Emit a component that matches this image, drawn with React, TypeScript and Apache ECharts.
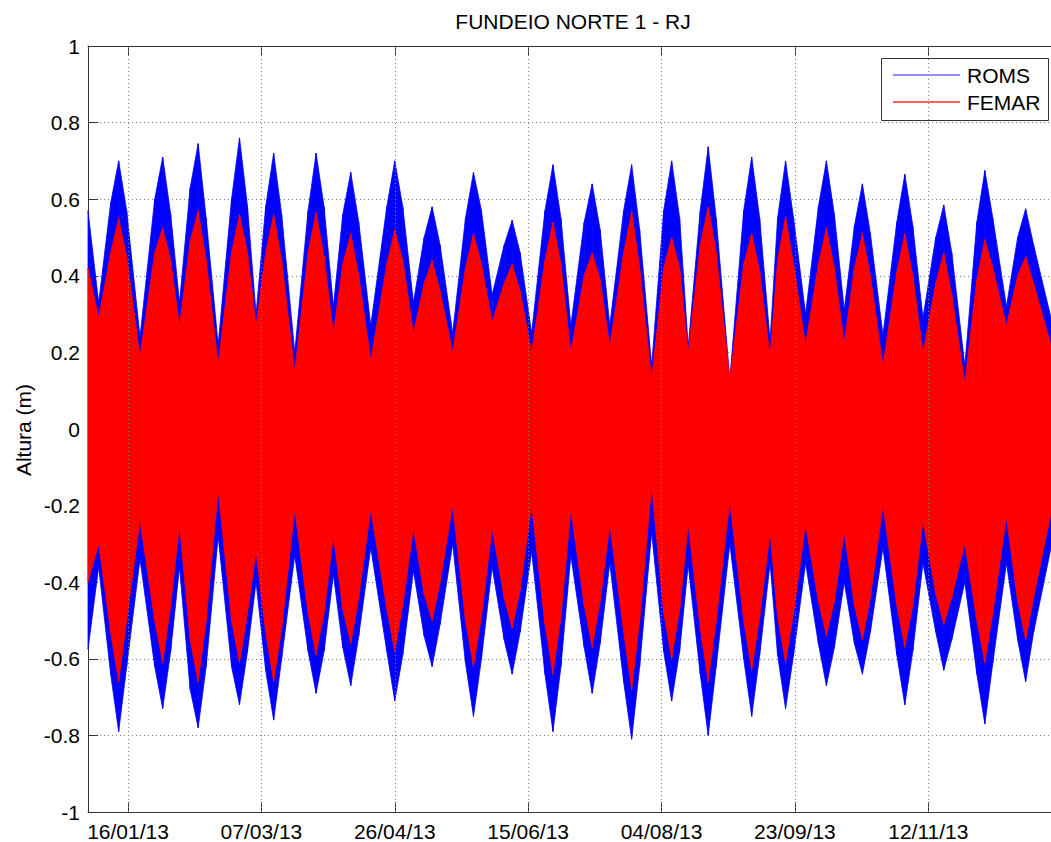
import React, { useEffect, useRef } from "react";
import * as echarts from "echarts";

// Time positions (days since 01/01/13) of envelope extremes / shoulders
const keyDays = [
  0, 4, 8.5, 11.5, 14.5, 19.5, 25, 28, 31, 34.3,
  38.3, 41.3, 44.3, 48.8, 53.8, 56.8, 59.8, 63, 66.6, 69.6,
  72.6, 77.5, 82.5, 85.5, 88.5, 92, 95.5, 98.5, 101.5, 106,
  112, 115, 118, 122, 126, 129, 132, 136.7, 141.5, 144.5,
  147.5, 151.5, 156, 159, 162, 166.3, 171.3, 174.3, 177.3, 181,
  186, 189, 192, 195.6, 200.8, 203.8, 206.8, 211.3, 215.8, 218.8,
  221.8, 225, 229.5, 232.5, 235.5, 240.6, 245.8, 248.8, 251.8, 255.7,
  258.5, 261.5, 264.5, 269, 273.8, 276.8, 279.8, 283.5, 287.3, 290.3,
  293.3, 298, 303.2, 306.2, 309.2, 313, 317.8, 320.8, 323.8, 328.7,
  333.2, 336.2, 339.2, 344.3, 348.5, 351.5, 354.5, 361,
];

// ROMS (blue) envelope, metres
const romsUpper = [
  0.57, 0.33, 0.59, 0.70, 0.57, 0.24, 0.60, 0.71, 0.56, 0.33,
  0.63, 0.745, 0.55, 0.22, 0.60, 0.76, 0.58, 0.30, 0.58, 0.72,
  0.56, 0.20, 0.57, 0.72, 0.58, 0.32, 0.56, 0.67, 0.54, 0.27,
  0.58, 0.70, 0.58, 0.33, 0.50, 0.58, 0.48, 0.25, 0.55, 0.67,
  0.57, 0.35, 0.48, 0.545, 0.46, 0.25, 0.57, 0.69, 0.55, 0.27,
  0.54, 0.64, 0.52, 0.27, 0.57, 0.69, 0.52, 0.165, 0.57, 0.70,
  0.55, 0.215, 0.57, 0.737, 0.55, 0.13, 0.57, 0.71, 0.55, 0.23,
  0.55, 0.70, 0.55, 0.30, 0.58, 0.70, 0.56, 0.31, 0.53, 0.64,
  0.51, 0.245, 0.54, 0.665, 0.53, 0.29, 0.50, 0.585, 0.46, 0.165,
  0.54, 0.675, 0.55, 0.32, 0.50, 0.575, 0.48, 0.29,
];
const romsLower = [
  -0.575, -0.36, -0.64, -0.79, -0.62, -0.34, -0.62, -0.73, -0.58, -0.36,
  -0.68, -0.78, -0.62, -0.28, -0.62, -0.72, -0.58, -0.40, -0.63, -0.76,
  -0.60, -0.33, -0.58, -0.69, -0.58, -0.38, -0.57, -0.67, -0.54, -0.31,
  -0.58, -0.71, -0.59, -0.37, -0.54, -0.62, -0.51, -0.30, -0.61, -0.75,
  -0.60, -0.36, -0.55, -0.64, -0.53, -0.32, -0.64, -0.79, -0.62, -0.33,
  -0.57, -0.69, -0.56, -0.35, -0.66, -0.81, -0.62, -0.27, -0.58, -0.71,
  -0.58, -0.355, -0.64, -0.80, -0.62, -0.30, -0.60, -0.75, -0.59, -0.35,
  -0.59, -0.73, -0.59, -0.35, -0.56, -0.67, -0.57, -0.40, -0.56, -0.64,
  -0.53, -0.31, -0.59, -0.72, -0.58, -0.35, -0.53, -0.63, -0.55, -0.40,
  -0.64, -0.77, -0.61, -0.35, -0.55, -0.66, -0.53, -0.31,
];

// FEMAR (red) envelope, metres
const femarUpper = [
  0.42, 0.29, 0.46, 0.55, 0.45, 0.19, 0.46, 0.525, 0.44, 0.27,
  0.49, 0.57, 0.44, 0.17, 0.46, 0.56, 0.46, 0.27, 0.46, 0.56,
  0.44, 0.15, 0.46, 0.565, 0.45, 0.25, 0.43, 0.51, 0.40, 0.18,
  0.43, 0.52, 0.44, 0.25, 0.38, 0.44, 0.36, 0.20, 0.42, 0.51,
  0.43, 0.28, 0.38, 0.43, 0.36, 0.20, 0.44, 0.54, 0.43, 0.20,
  0.40, 0.46, 0.39, 0.215, 0.46, 0.568, 0.42, 0.13, 0.42, 0.50,
  0.42, 0.20, 0.48, 0.58, 0.46, 0.13, 0.43, 0.51, 0.41, 0.19,
  0.44, 0.555, 0.43, 0.22, 0.43, 0.525, 0.42, 0.225, 0.42, 0.51,
  0.40, 0.165, 0.41, 0.51, 0.40, 0.20, 0.38, 0.46, 0.35, 0.12,
  0.39, 0.495, 0.42, 0.27, 0.40, 0.45, 0.38, 0.22,
];
const femarLower = [
  -0.40, -0.30, -0.53, -0.66, -0.50, -0.24, -0.50, -0.61, -0.46, -0.25,
  -0.55, -0.66, -0.50, -0.16, -0.50, -0.61, -0.48, -0.32, -0.53, -0.66,
  -0.52, -0.21, -0.48, -0.59, -0.48, -0.28, -0.47, -0.56, -0.44, -0.21,
  -0.47, -0.58, -0.46, -0.26, -0.43, -0.50, -0.40, -0.20, -0.50, -0.62,
  -0.49, -0.26, -0.44, -0.52, -0.42, -0.20, -0.51, -0.64, -0.49, -0.21,
  -0.46, -0.57, -0.45, -0.25, -0.53, -0.68, -0.50, -0.15, -0.48, -0.60,
  -0.47, -0.25, -0.52, -0.66, -0.50, -0.19, -0.50, -0.63, -0.49, -0.27,
  -0.49, -0.61, -0.48, -0.25, -0.45, -0.54, -0.45, -0.27, -0.46, -0.55,
  -0.44, -0.20, -0.46, -0.57, -0.46, -0.24, -0.43, -0.51, -0.44, -0.30,
  -0.50, -0.61, -0.48, -0.23, -0.45, -0.55, -0.44, -0.22,
];

// X tick positions (days since 01/01/13) and labels
const xTickDays = [15, 65, 115, 165, 215, 265, 315];
const xTickLabels = ["16/01/13", "07/03/13", "26/04/13", "15/06/13", "04/08/13", "23/09/13", "12/11/13"];

const FONT = "'Liberation Sans', Arial, Helvetica, sans-serif";
const FS = 21;

function bandData(up: number[], lo: number[]) {
  const out: number[][] = [];
  for (let i = 0; i < keyDays.length - 1; i++) {
    out.push([keyDays[i], keyDays[i + 1], up[i], up[i + 1], lo[i], lo[i + 1]]);
  }
  return out;
}

function bandSeries(name: string, color: string, up: number[], lo: number[], z: number) {
  return {
    name,
    type: "custom",
    z,
    silent: true,
    encode: { x: [0, 1], y: [2, 3, 4, 5] },
    data: bandData(up, lo),
    renderItem: (params: any, api: any) => {
      const p1 = api.coord([api.value(0), api.value(2)]);
      const p2 = api.coord([api.value(1), api.value(3)]);
      const p3 = api.coord([api.value(1), api.value(5)]);
      const p4 = api.coord([api.value(0), api.value(4)]);
      return {
        type: "polygon",
        shape: { points: [p1, p2, p3, p4] },
        style: { fill: color, stroke: color, lineWidth: 0.8 },
      };
    },
  };
}

export default function App() {
  const ref = useRef<HTMLDivElement>(null);

  useEffect(() => {
    if (!ref.current) return;
    const chart = echarts.init(ref.current, null, { renderer: "svg" });
    const axisColor = "#333333";
    const gridLine = { color: "#808080", width: 1, type: [1, 3] as any };
    chart.setOption({
      animation: false,
      backgroundColor: "#ffffff",
      textStyle: { fontFamily: FONT },
      grid: { left: 88, right: 0, top: 46, bottom: 29, containLabel: false },
      xAxis: [
        {
          type: "value",
          min: 0,
          max: 361,
          position: "bottom",
          axisLine: { show: true, onZero: false, lineStyle: { color: axisColor, width: 1 } },
          axisTick: { show: true, inside: true, length: 10, customValues: xTickDays, lineStyle: { color: axisColor } },
          axisLabel: {
            show: true,
            customValues: xTickDays,
            margin: 9,
            color: "#000",
            fontSize: FS,
            fontFamily: FONT,
            formatter: (v: number) => {
              const i = xTickDays.indexOf(Math.round(v));
              return i >= 0 ? xTickLabels[i] : "";
            },
          },
          splitLine: { show: false },
        },
        {
          type: "value",
          min: 0,
          max: 361,
          position: "top",
          axisLine: { show: true, onZero: false, lineStyle: { color: axisColor, width: 1 } },
          axisTick: { show: true, inside: true, length: 10, customValues: xTickDays, lineStyle: { color: axisColor } },
          axisLabel: { show: false },
          splitLine: { show: false },
        },
      ],
      yAxis: {
        type: "value",
        min: -1,
        max: 1,
        interval: 0.2,
        position: "left",
        axisLine: { show: true, onZero: false, lineStyle: { color: axisColor, width: 1 } },
        axisTick: { show: true, inside: true, length: 10, lineStyle: { color: axisColor } },
        axisLabel: {
          margin: 8,
          color: "#000",
          fontSize: FS,
          fontFamily: FONT,
          formatter: (v: number) => String(Math.round(v * 10) / 10),
        },
        splitLine: { show: true, lineStyle: gridLine },
      },
      series: [
        {
          name: "grid",
          type: "line",
          data: [],
          z: 1,
          silent: true,
          markLine: {
            silent: true,
            symbol: "none",
            label: { show: false },
            lineStyle: gridLine,
            data: xTickDays.map((d) => ({ xAxis: d })),
          },
        },
        bandSeries("ROMS", "#0000ff", romsUpper, romsLower, 2),
        bandSeries("FEMAR", "#ff0000", femarUpper, femarLower, 3),
      ],
      graphic: [
        {
          type: "text",
          x: 573,
          y: 21,
          style: { text: "FUNDEIO NORTE 1 - RJ", font: `${FS}px ${FONT}`, fill: "#000", textAlign: "center", textVerticalAlign: "middle" },
        },
        {
          type: "text",
          x: 23,
          y: 430,
          rotation: Math.PI / 2,
          style: { text: "Altura (m)", font: `${FS}px ${FONT}`, fill: "#000", textAlign: "center", textVerticalAlign: "middle" },
        },
        {
          type: "group",
          z: 100,
          children: [
            { type: "rect", shape: { x: 881.5, y: 58.5, width: 167, height: 62 }, style: { fill: "#fff", stroke: "#333", lineWidth: 1 } },
            { type: "line", shape: { x1: 893, y1: 75, x2: 960, y2: 75 }, style: { stroke: "#6a6aff", lineWidth: 1.5 } },
            { type: "line", shape: { x1: 893, y1: 102, x2: 960, y2: 102 }, style: { stroke: "#ff2a2a", lineWidth: 1.5 } },
            { type: "text", x: 967, y: 75, style: { text: "ROMS", font: `${FS}px ${FONT}`, fill: "#000", textAlign: "left", textVerticalAlign: "middle" } },
            { type: "text", x: 967, y: 102, style: { text: "FEMAR", font: `${FS}px ${FONT}`, fill: "#000", textAlign: "left", textVerticalAlign: "middle" } },
          ],
        },
      ],
    });
    return () => chart.dispose();
  }, []);

  return (
    <div
      ref={ref}
      style={{ position: "absolute", left: 0, top: 0, width: 1051, height: 842, background: "#fff" }}
    />
  );
}
